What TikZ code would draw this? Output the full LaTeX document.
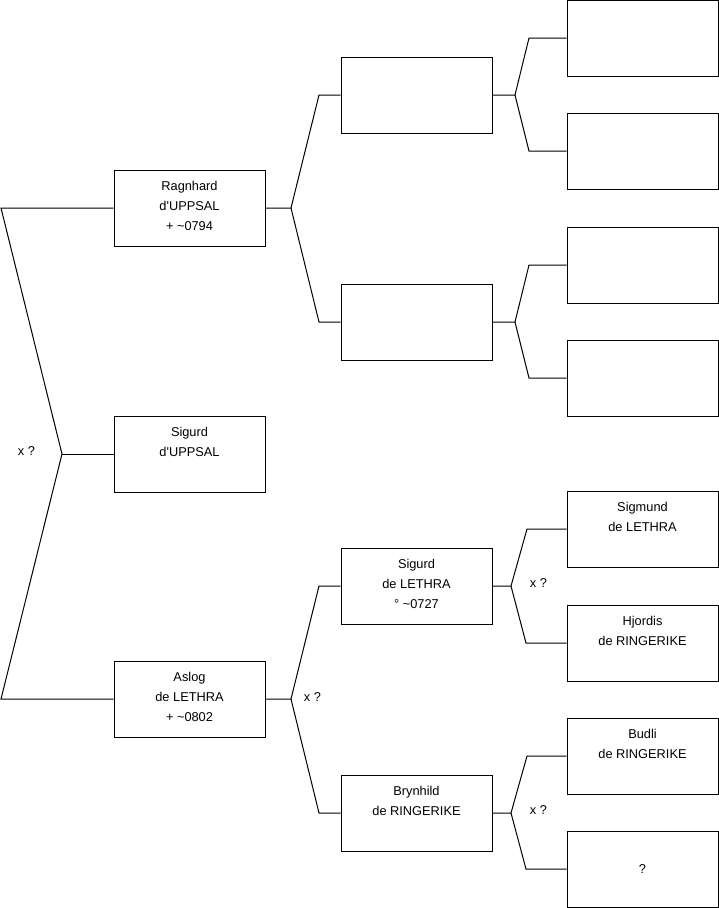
\documentclass[tikz,border=0pt]{standalone}
\usepackage{fontspec}
\setmainfont{Liberation Sans}
\usepackage{tikz}
\usetikzlibrary{positioning}

\begin{document}
\begin{tikzpicture}[x=1pt, y=-1pt,
    person/.style={draw, line width=1pt, minimum width=151pt, minimum height=76pt, inner sep=0pt},
    who/.style={align=center, font=\fontsize{12.8}{20}\selectfont, inner sep=0pt},
    branch/.style={line width=1pt}]
  \useasboundingbox (0,0) rectangle (719,908);
  % Boxes, generation 1
  \node[person] (ragnhard) at (189.5,208) {};
  \node[person] (sigurdU) at (189.5,454) {};
  \node[person] (aslog) at (189.5,699) {};
  % Boxes, generation 2
  \node[person] (ragF) at (416.5,95) {};
  \node[person] (ragM) at (416.5,322) {};
  \node[person] (sigurdL) at (416.5,586) {};
  \node[person] (brynhild) at (416.5,813) {};
  % Boxes, generation 3
  \node[person] (ragFF) at (642.5,38) {};
  \node[person] (ragFM) at (642.5,151) {};
  \node[person] (ragMF) at (642.5,265) {};
  \node[person] (ragMM) at (642.5,378) {};
  \node[person] (sigmund) at (642.5,529) {};
  \node[person] (hjordis) at (642.5,643) {};
  \node[person] (budli) at (642.5,756) {};
  \node[person, font=\fontsize{12.8}{20}\selectfont] (unknown) at (642.5,869) {?};
  % Names
  \node[who, below=11.5pt of ragnhard.north] (ragnhardT) {Ragnhard\\d\textquotesingle UPPSAL\\+ \textasciitilde0794};
  \node[who, below=11.5pt of sigurdU.north] (sigurdUT) {Sigurd\\d\textquotesingle UPPSAL};
  \node[who, below=11.5pt of aslog.north] (aslogT) {Aslog\\de LETHRA\\+ \textasciitilde0802};
  \node[who, below=11.5pt of sigurdL.north] (sigurdLT) {Sigurd\\de LETHRA\\° \textasciitilde0727};
  \node[who, below=11.5pt of brynhild.north] (brynhildT) {Brynhild\\de RINGERIKE};
  \node[who, below=11.5pt of sigmund.north] (sigmundT) {Sigmund\\de LETHRA};
  \node[who, below=11.5pt of hjordis.north] (hjordisT) {Hjordis\\de RINGERIKE};
  \node[who, below=11.5pt of budli.north] (budliT) {Budli\\de RINGERIKE};
  % Forks
  \coordinate (top0) at (1,208);
  \coordinate (fork0) at (62,454);
  \coordinate (bot0) at (1,699);
  \draw[branch] (ragnhard.west) -- (top0) -- (fork0) -- (bot0) -- (aslog.west);
  \draw[branch] (fork0) -- (sigurdU.west);
  \node[who] (x0) at (26.5,451) {x ?};

  \coordinate (fork1) at (291,208);
  \draw[branch] (ragnhard.east) -- (fork1) -- (319,95) -- (ragF.west);
  \draw[branch] (fork1) -- (319,322) -- (ragM.west);

  \coordinate (fork2) at (291,699);
  \draw[branch] (aslog.east) -- (fork2) -- (319,586) -- (sigurdL.west);
  \draw[branch] (fork2) -- (319,813) -- (brynhild.west);
  \node[who] (x2) at (312.5,697) {x ?};

  \coordinate (fork3) at (515,95);
  \draw[branch] (ragF.east) -- (fork3) -- (529,38) -- (ragFF.west);
  \draw[branch] (fork3) -- (529,151) -- (ragFM.west);

  \coordinate (fork4) at (515,322);
  \draw[branch] (ragM.east) -- (fork4) -- (529,265) -- (ragMF.west);
  \draw[branch] (fork4) -- (529,378) -- (ragMM.west);

  \coordinate (fork5) at (511,586);
  \draw[branch] (sigurdL.east) -- (fork5) -- (527,529) -- (sigmund.west);
  \draw[branch] (fork5) -- (526,643) -- (hjordis.west);
  \node[who] (x5) at (538.5,583) {x ?};

  \coordinate (fork6) at (511,813);
  \draw[branch] (brynhild.east) -- (fork6) -- (527,756) -- (budli.west);
  \draw[branch] (fork6) -- (526,869) -- (unknown.west);
  \node[who] (x6) at (538.5,810) {x ?};
\end{tikzpicture}
\end{document}
